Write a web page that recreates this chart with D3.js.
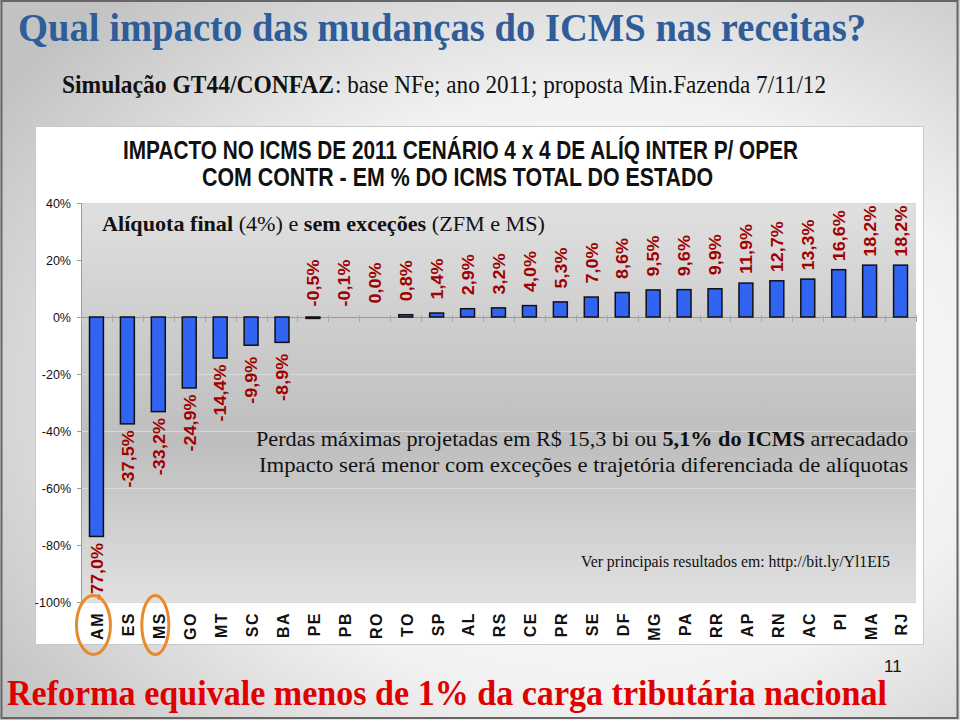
<!DOCTYPE html>
<html>
<head>
<meta charset="utf-8">
<script src="https://cdn.jsdelivr.net/npm/d3@7"></script>
<style>
html,body{margin:0;padding:0;background:#fff;}
svg{display:block;}
</style>
</head>
<body>
<svg id="c" width="960" height="720"></svg>
<script>
// ---- data ----
const states = ["AM","ES","MS","GO","MT","SC","BA","PE","PB","RO","TO","SP","AL","RS","CE","PR","SE","DF","MG","PA","RR","AP","RN","AC","PI","MA","RJ"];
const impact = [-77.0,-37.5,-33.2,-24.9,-14.4,-9.9,-8.9,-0.5,-0.1,0.0,0.8,1.4,2.9,3.2,4.0,5.3,7.0,8.6,9.5,9.6,9.9,11.9,12.7,13.3,16.6,18.2,18.2];
const yTicks = [40,20,0,-20,-40,-60,-80,-100];
const highlighted = ["AM","MS"];

const svg = d3.select("#c");
const defs = svg.append("defs");

// slide background
const rg = defs.append("radialGradient").attr("id","bg").attr("cx","62%").attr("cy","55%").attr("r","75%");
rg.append("stop").attr("offset","0%").attr("stop-color","#ffffff");
rg.append("stop").attr("offset","55%").attr("stop-color","#f2f2f2");
rg.append("stop").attr("offset","100%").attr("stop-color","#c2c2c2");
svg.append("rect").attr("x",0).attr("y",0).attr("width",960).attr("height",720).attr("fill","url(#bg)");
svg.append("rect").attr("x",1.5).attr("y",1).attr("width",956).attr("height",717)
  .attr("fill","none").attr("stroke","#666").attr("stroke-width",2);

// plot gradient
const lg = defs.append("linearGradient").attr("id","plotbg").attr("x1",0).attr("y1",0).attr("x2",0).attr("y2",1);
lg.append("stop").attr("offset","0%").attr("stop-color","#e0e0e0");
lg.append("stop").attr("offset","35%").attr("stop-color","#cbcbcb");
lg.append("stop").attr("offset","60%").attr("stop-color","#bebebe");
lg.append("stop").attr("offset","100%").attr("stop-color","#e0e0e0");

// titles
svg.append("text").attr("x",18).attr("y",41)
  .attr("font-family","Liberation Serif").attr("font-weight","bold").attr("font-size",41)
  .attr("fill","#2e5d9a").attr("textLength",848).attr("lengthAdjust","spacingAndGlyphs")
  .text("Qual impacto das mudanças do ICMS nas receitas?");
svg.append("text").attr("x",62).attr("y",93)
  .attr("font-family","Liberation Serif").attr("font-weight","bold").attr("font-size",26).attr("fill","#111")
  .attr("textLength",272).attr("lengthAdjust","spacingAndGlyphs")
  .text("Simulação GT44/CONFAZ");
svg.append("text").attr("x",335).attr("y",93)
  .attr("font-family","Liberation Serif").attr("font-size",26).attr("fill","#111")
  .attr("textLength",491).attr("lengthAdjust","spacingAndGlyphs")
  .text(": base NFe; ano 2011; proposta Min.Fazenda 7/11/12");

// chart box
svg.append("rect").attr("x",35.5).attr("y",126.5).attr("width",888).attr("height",518)
  .attr("fill","#fff").attr("stroke","#c8c8c8");

const L = 81, R = 916, T = 203, B = 602;
svg.append("rect").attr("x",L).attr("y",T).attr("width",R-L).attr("height",B-T).attr("fill","url(#plotbg)");

const y = d3.scaleLinear().domain([-100,40]).range([B,T]);
const x = d3.scaleBand().domain(states).range([L,R]).paddingInner(0.55).paddingOuter(0.275);

// gridlines
svg.append("g").selectAll("line").data(yTicks.filter(t=>t!==0)).join("line")
  .attr("x1",L).attr("x2",R).attr("y1",d=>Math.round(y(d))+0.5).attr("y2",d=>Math.round(y(d))+0.5)
  .attr("stroke","#d9d9d9").attr("stroke-width",1);

// y axis
const yAxis = d3.axisLeft(y).tickValues(yTicks).tickFormat(d=>d+"%").tickSize(4).tickPadding(6);
const ga = svg.append("g").attr("transform",`translate(${L},0)`).call(yAxis);
ga.select(".domain").attr("stroke","#9a9a9a");
ga.selectAll(".tick line").attr("stroke","#9a9a9a");
ga.selectAll(".tick text").attr("font-family","Liberation Sans, Arial").attr("font-size",12.5).attr("fill","#111");

// chart title
svg.append("text").attr("x",123).attr("y",159)
  .attr("font-family","Liberation Sans, Arial").attr("font-weight","bold").attr("font-size",25).attr("fill","#111")
  .attr("textLength",675).attr("lengthAdjust","spacingAndGlyphs")
  .text("IMPACTO NO ICMS DE 2011 CENÁRIO 4 x 4 DE ALÍQ INTER P/ OPER");
svg.append("text").attr("x",202).attr("y",186)
  .attr("font-family","Liberation Sans, Arial").attr("font-weight","bold").attr("font-size",25).attr("fill","#111")
  .attr("textLength",511).attr("lengthAdjust","spacingAndGlyphs")
  .text("COM CONTR - EM % DO ICMS TOTAL DO ESTADO");

const al = svg.append("text").attr("x",102).attr("y",231)
  .attr("font-family","Liberation Serif").attr("font-size",21).attr("fill","#111")
  .attr("textLength",443).attr("lengthAdjust","spacingAndGlyphs");
al.append("tspan").attr("font-weight","bold").text("Alíquota final");
al.append("tspan").text(" (4%) e ");
al.append("tspan").attr("font-weight","bold").text("sem exceções");
al.append("tspan").text(" (ZFM e MS)");

// zero line + category ticks
svg.append("line").attr("x1",L).attr("x2",R).attr("y1",y(0)+0.5).attr("y2",y(0)+0.5).attr("stroke","#9a9a9a");
const step = x.step();
svg.append("g").selectAll("line").data(d3.range(states.length+1)).join("line")
  .attr("x1",i=>Math.round(L+i*step)+0.5).attr("x2",i=>Math.round(L+i*step)+0.5)
  .attr("y1",y(0)-2).attr("y2",y(0)+5).attr("stroke","#a8a8a8");

// bars
const data = states.map((s,i)=>({s, v:impact[i]}));
svg.append("g").selectAll("rect").data(data.filter(d=>Math.abs(d.v)>=0.3)).join("rect")
  .attr("x",d=>x(d.s)).attr("width",x.bandwidth())
  .attr("y",d=>y(Math.max(0,d.v))).attr("height",d=>Math.abs(y(d.v)-y(0)))
  .attr("fill","#3164f2").attr("stroke","#111").attr("stroke-width",1.5);

// value labels
const fmt = v => v.toFixed(1).replace(".",",")+"%";
svg.append("g").selectAll("text").data(data).join("text")
  .attr("transform",d=>{
    const cx = x(d.s)+x.bandwidth()/2;
    const cy = d.v > -1 ? y(Math.max(0,d.v)) - 34 : y(d.v) + 35;
    return `translate(${cx},${cy}) rotate(-90) scale(1.06,1)`;
  })
  .attr("text-anchor","middle").attr("dy","0.37em")
  .attr("font-family","Liberation Sans, Arial").attr("font-weight","bold").attr("font-size",17)
  .attr("fill","#a00000").text(d=>fmt(d.v));

// category labels
svg.append("g").selectAll("text").data(states).join("text")
  .attr("transform",d=>`translate(${x(d)+x.bandwidth()/2+1},612) rotate(-90)`)
  .attr("text-anchor","end").attr("dy","0.37em").attr("letter-spacing",1.5)
  .attr("font-family","Liberation Sans, Arial").attr("font-weight","bold").attr("font-size",16)
  .attr("fill","#111").text(d=>d);

// highlight ellipses
svg.append("g").selectAll("ellipse").data(highlighted).join("ellipse")
  .attr("cx",d=>x(d)+x.bandwidth()/2 - 3).attr("cy",625)
  .attr("rx",d=>d==="AM"?17:13.5).attr("ry",29.5)
  .attr("fill","none").attr("stroke","#e8892b").attr("stroke-width",3);

// annotations
const a1 = svg.append("text").attr("x",256).attr("y",446)
  .attr("font-family","Liberation Serif").attr("font-size",21).attr("fill","#111")
  .attr("textLength",652).attr("lengthAdjust","spacingAndGlyphs");
a1.append("tspan").text("Perdas máximas projetadas em R$ 15,3 bi ou ");
a1.append("tspan").attr("font-weight","bold").text("5,1% do ICMS");
a1.append("tspan").text(" arrecadado");
svg.append("text").attr("x",259).attr("y",472)
  .attr("font-family","Liberation Serif").attr("font-size",21).attr("fill","#111")
  .attr("textLength",649).attr("lengthAdjust","spacingAndGlyphs")
  .text("Impacto será menor com exceções e trajetória diferenciada de alíquotas");
svg.append("text").attr("x",581).attr("y",567)
  .attr("font-family","Liberation Serif").attr("font-size",16).attr("fill","#111")
  .attr("textLength",309).attr("lengthAdjust","spacingAndGlyphs")
  .text("Ver principais resultados em: http://bit.ly/Yl1EI5");

// footer
svg.append("text").attr("x",7).attr("y",705)
  .attr("font-family","Liberation Serif").attr("font-weight","bold").attr("font-size",35)
  .attr("fill","#e00000").attr("textLength",880).attr("lengthAdjust","spacingAndGlyphs")
  .text("Reforma equivale  menos de 1% da carga tributária nacional");
svg.append("text").attr("x",884).attr("y",672)
  .attr("font-family","Liberation Sans, Arial").attr("font-size",17).attr("fill","#111").text("11");
</script>
</body>
</html>
